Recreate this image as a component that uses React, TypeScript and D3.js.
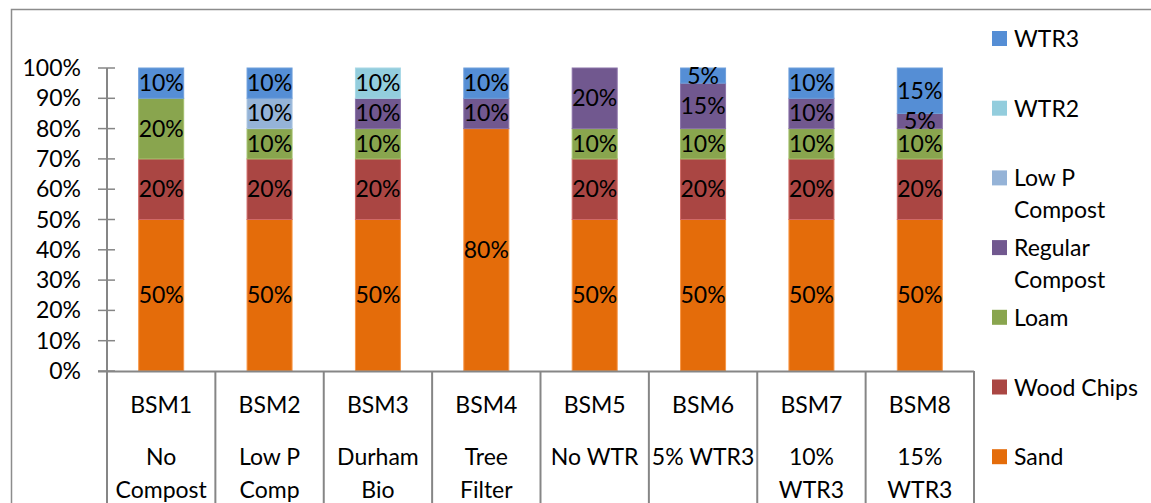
import React from "react";
import * as d3 from "d3";

const categories = ["BSM1", "BSM2", "BSM3", "BSM4", "BSM5", "BSM6", "BSM7", "BSM8"];
const descriptions = [
  ["No", "Compost"],
  ["Low P", "Comp"],
  ["Durham", "Bio"],
  ["Tree", "Filter"],
  ["No WTR"],
  ["5% WTR3"],
  ["10%", "WTR3"],
  ["15%", "WTR3"],
];
// stacking order bottom -> top
const seriesNames = ["Sand", "Wood Chips", "Loam", "Regular Compost", "Low P Compost", "WTR2", "WTR3"];
const sand = [0.5, 0.5, 0.5, 0.8, 0.5, 0.5, 0.5, 0.5];
const woodChips = [0.2, 0.2, 0.2, 0, 0.2, 0.2, 0.2, 0.2];
const loam = [0.2, 0.1, 0.1, 0, 0.1, 0.1, 0.1, 0.1];
const regularCompost = [0, 0, 0.1, 0.1, 0.2, 0.15, 0.1, 0.05];
const lowPCompost = [0, 0.1, 0, 0, 0, 0, 0, 0];
const wtr2 = [0, 0, 0.1, 0, 0, 0, 0, 0];
const wtr3 = [0.1, 0.1, 0, 0.1, 0, 0.05, 0.1, 0.15];
const seriesValues = [sand, woodChips, loam, regularCompost, lowPCompost, wtr2, wtr3];
const fills = ["#E46C0A", "#AA4643", "#89A54E", "#71588F", "#95B3D7", "#93CDDD", "#558ED5"];
const strokes = ["#F79646", "#D06A67", "#A2BF6A", "#8A72A8", "#A9C3E0", "#A8D8E6", "#6F9FDB"];
const legendLines = [["WTR3"], ["WTR2"], ["Low P", "Compost"], ["Regular", "Compost"], ["Loam"], ["Wood Chips"], ["Sand"]];
const legendColors = ["#558ED5", "#93CDDD", "#95B3D7", "#71588F", "#89A54E", "#AA4643", "#E46C0A"];
const yTicks = [0, 0.1, 0.2, 0.3, 0.4, 0.5, 0.6, 0.7, 0.8, 0.9, 1.0];

const FONT = "Lato, 'Open Sans', sans-serif";
const FS = 23;
const AXIS = "#868686";

export default function App() {
  const y = d3.scaleLinear().domain([0, 1]).range([371, 68]);
  const x = d3.scaleBand<string>().domain(categories).range([107, 974]).paddingInner(0).paddingOuter(0);
  const bw = x.bandwidth();
  const barW = 45;
  const fmt = d3.format(".0%");

  const rows = categories.map((c, i) => {
    const r: any = { cat: c };
    seriesNames.forEach((s, k) => (r[s] = seriesValues[k][i]));
    return r;
  });
  const stacked = d3.stack<any>().keys(seriesNames)(rows);

  return (
    <div style={{ position: "fixed", left: 0, top: 0 }}>
      <svg width={1151} height={503} style={{ display: "block", background: "#fff" }} fontFamily={FONT}>
        {/* chart outer border */}
        <path d="M11.5,503 L11.5,9.5 L1151,9.5" fill="none" stroke="#8C8C8C" strokeWidth={1.5} />

        {/* bars */}
        {stacked.map((layer, k) => (
          <g key={seriesNames[k]}>
            {layer.map((d, i) => {
              const v = d[1] - d[0];
              if (v <= 0) return null;
              const cx = (x(categories[i]) as number) + bw / 2;
              return (
                <rect
                  key={i}
                  x={cx - barW / 2}
                  y={y(d[1])}
                  width={barW}
                  height={y(d[0]) - y(d[1])}
                  fill={fills[k]}
                  stroke={strokes[k]}
                  strokeWidth={1}
                />
              );
            })}
          </g>
        ))}
        {/* data labels */}
        {stacked.map((layer, k) => (
          <g key={"l" + seriesNames[k]}>
            {layer.map((d, i) => {
              const v = d[1] - d[0];
              if (v <= 0) return null;
              const cx = (x(categories[i]) as number) + bw / 2;
              const cy = (y(d[0]) + y(d[1])) / 2;
              return (
                <text key={i} x={cx} y={cy + 8} textAnchor="middle" fontSize={FS} fill="#000">
                  {fmt(v)}
                </text>
              );
            })}
          </g>
        ))}

        {/* y axis */}
        <line x1={107} x2={107} y1={y(1)} y2={y(0)} stroke={AXIS} strokeWidth={2} />
        {yTicks.map((t) => (
          <g key={t}>
            <line x1={98} x2={115} y1={y(t)} y2={y(t)} stroke={AXIS} strokeWidth={1.5} />
            <text x={81} y={y(t) + 8} textAnchor="end" fontSize={FS} fill="#000">
              {fmt(t)}
            </text>
          </g>
        ))}

        {/* x axis & category table */}
        <line x1={98} x2={974} y1={y(0) + 0.5} y2={y(0) + 0.5} stroke={AXIS} strokeWidth={2} />
        {[...categories, "end"].map((c, i) => {
          const xx = 107 + i * bw;
          return <line key={c} x1={xx} x2={xx} y1={y(0)} y2={503} stroke={AXIS} strokeWidth={2} />;
        })}
        {categories.map((c, i) => {
          const cx = (x(c) as number) + bw / 2;
          return (
            <g key={c}>
              <text x={cx} y={413} textAnchor="middle" fontSize={FS} fill="#000">
                {c}
              </text>
              {descriptions[i].map((line, j) => (
                <text key={j} x={cx} y={465 + j * 33} textAnchor="middle" fontSize={FS} fill="#000">
                  {line}
                </text>
              ))}
            </g>
          );
        })}

        {/* legend */}
        {legendLines.map((lines, i) => {
          const base = 47 + i * 69.7;
          return (
            <g key={i}>
              <rect x={992} y={base - 16} width={15} height={15} fill={legendColors[i]} />
              {lines.map((l, j) => (
                <text key={j} x={1014} y={base + j * 32} fontSize={FS} fill="#000">
                  {l}
                </text>
              ))}
            </g>
          );
        })}
      </svg>
    </div>
  );
}
